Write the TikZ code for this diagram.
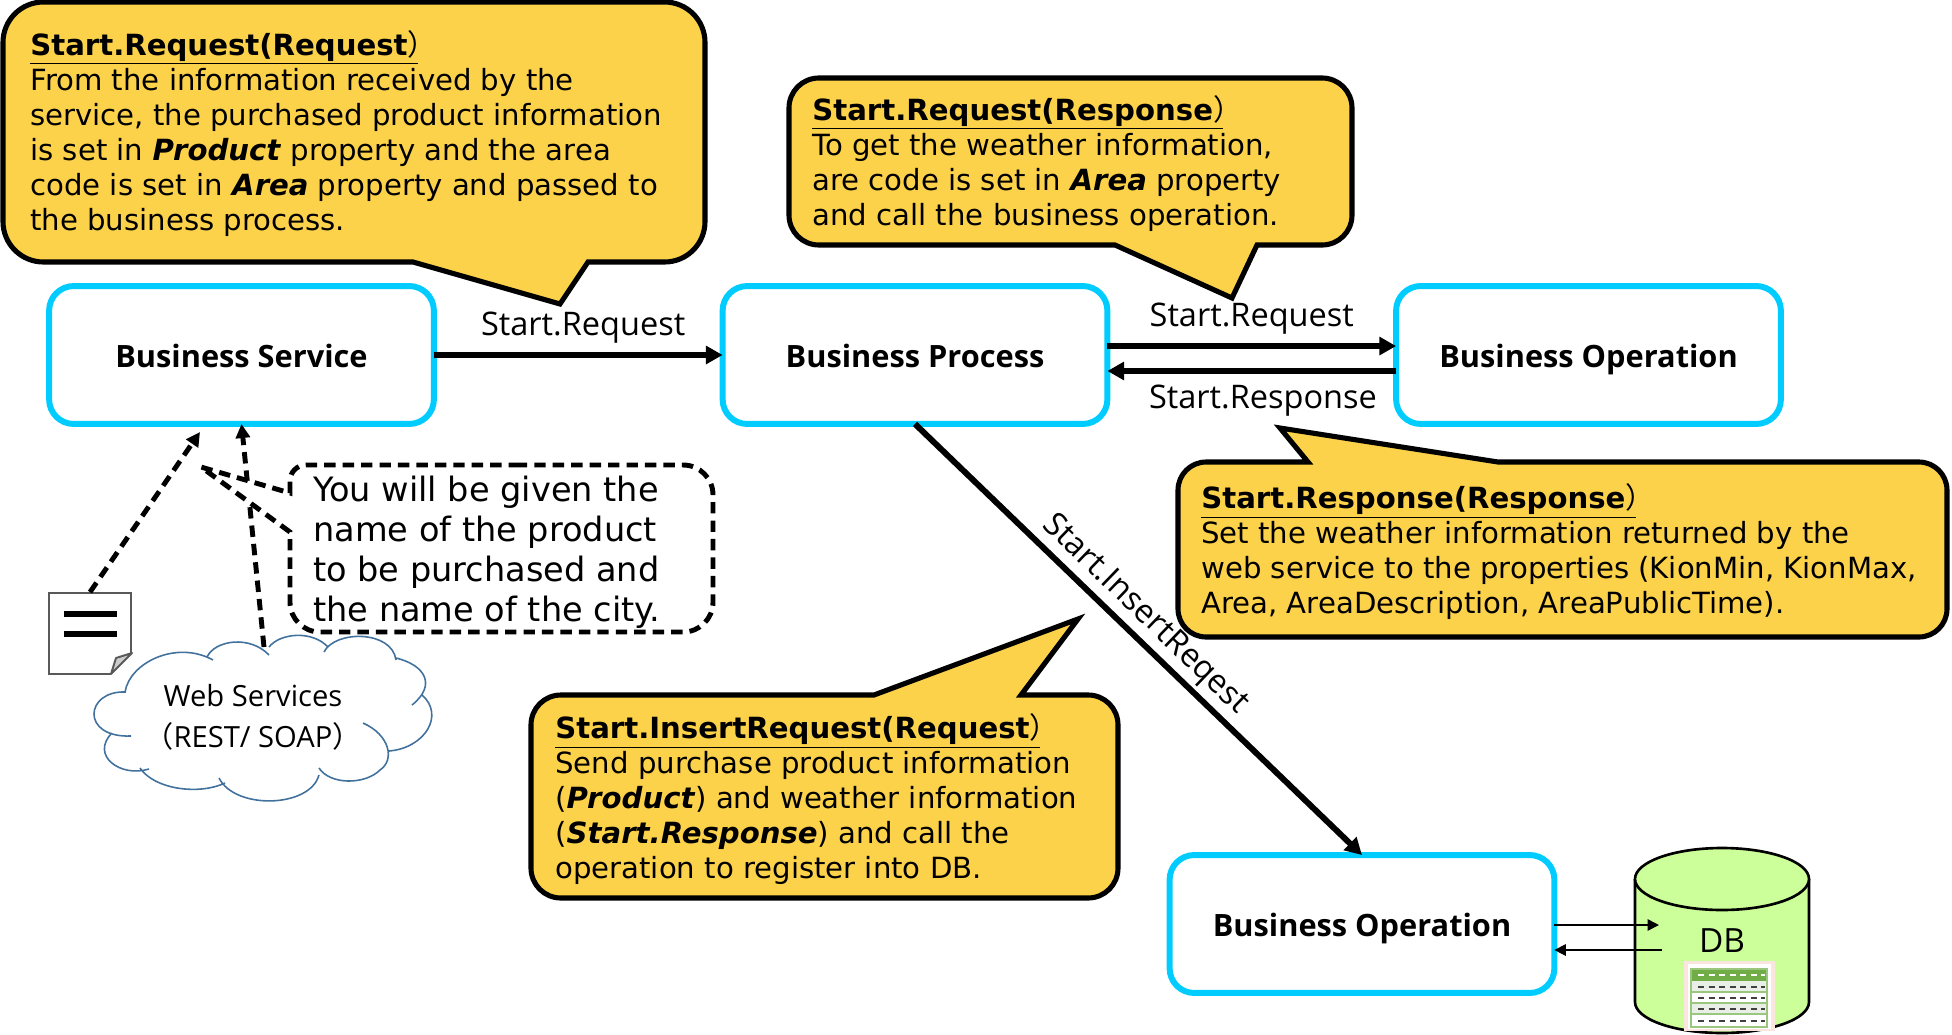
\documentclass[tikz,border=0pt]{standalone}
\usepackage{fontspec}
\setmainfont{DejaVu Sans}
\newfontfamily\uifont{Open Sans}
\newfontfamily\cjk{Noto Sans CJK JP}
\usetikzlibrary{arrows.meta}
\definecolor{frame}{HTML}{00CCFF}
\definecolor{note}{HTML}{FDD24B}
\definecolor{puff}{HTML}{41719C}
\definecolor{store}{HTML}{CCFF99}
\definecolor{grid}{HTML}{70AD47}
\definecolor{stripe}{HTML}{E9EFE6}
\definecolor{halo}{HTML}{FBE5DF}
\tikzset{
  svcbox/.style={draw=frame,line width=3.4pt,fill=white,rounded corners=14pt,minimum width=219pt,minimum height=78.5pt,outer sep=0pt,text height=17pt,text depth=2.4pt,font=\uifont\fontsize{17.5}{20}\selectfont\bfseries},
  flow/.style={line width=3.4pt,-{Triangle[length=9.5pt,width=10pt]}},
  thinflow/.style={line width=0.9pt,-{Triangle[length=6.5pt,width=6.5pt]}},
  hint/.style={line width=2.8pt,dash pattern=on 6.5pt off 4pt,-{Triangle[length=8pt,width=8pt]}},
  flowlabel/.style={font=\uifont\fontsize{18.5}{22}\selectfont,inner sep=0pt},
  notebox/.style={draw=black,line width=2.9pt,fill=note,line join=miter},
  notetext/.style={anchor=north west,align=left,inner sep=0pt,font=\fontsize{16.6}{19.9}\selectfont},
  dashline/.style={line width=1.1pt,dash pattern=on 3.4pt off 2.6pt},
}
\newcommand{\notehead}[1]{\underline{\textbf{#1}{\cjk ）}\kern-.65em}}
\begin{document}
\begin{tikzpicture}[x=0.02cm,y=-0.02cm]
\useasboundingbox (0,0) rectangle (1952,1035);
% services
\node[svcbox] (bs) at (241.5,355) {Business Service};
\node[svcbox] (bp) at (915,355) {Business Process};
\node[svcbox] (bo) at (1588.5,355) {Business Operation};
\node[svcbox] (bodb) at (1362,924) {Business Operation};
% main flows
\draw[flow] (bs) -- node[flowlabel,above=4.8pt,xshift=2.8pt] {Start.Request} (bp);
\draw[flow] ([yshift=5.1pt]bp.east) -- node[flowlabel,above=5pt] {Start.Request} ([yshift=5.1pt]bo.west);
\draw[flow] ([yshift=-9.1pt]bo.west) -- node[flowlabel,below=6.3pt,xshift=6.4pt] {Start.Response} ([yshift=-9.1pt]bp.east);
\draw[flow] (bp.south) -- node[flowlabel,sloped,pos=0.48,above=2pt] {Start.InsertReqest} (bodb.north);
% document
\node[draw=black!65,line width=1.1pt,fill=white,minimum width=46.7pt,minimum height=46pt,inner sep=0pt] (docicon) at (90,633.5) {};
\draw[line width=3.2pt] (64,614) -- (117,614) (64,634) -- (117,634);
\fill[white] (134,651) -- (134,676) -- (110,676) -- cycle;
\draw[draw=black!65,line width=1.1pt,fill=black!20,line join=round] (132,653) -- (116,658) -- (111,674) -- cycle;
% cloud
\draw[puff,line width=0.9pt]
  (125,692) .. controls (130,662) and (177,640) .. (213,660)
  (207,657) .. controls (215,640) and (250,635) .. (269,655)
  (269,647) .. controls (280,633) and (312,630) .. (328,647)
  (324,652) .. controls (335,630) and (392,630) .. (396,660)
  (396,658) .. controls (425,665) and (437,685) .. (412,705)
  (422,695) .. controls (445,715) and (425,748) .. (389,751)
  (363,723) .. controls (390,735) and (395,760) .. (380,770) .. controls (365,785) and (330,785) .. (319,768)
  (319,775) .. controls (310,808) and (235,810) .. (219,778)
  (225,783) .. controls (200,795) and (155,790) .. (140,768)
  (149,769) .. controls (120,778) and (90,755) .. (112,733)
  (131,736) .. controls (80,738) and (85,690) .. (126,692);
\node[font=\uifont\fontsize{16.6}{23.4}\selectfont,align=center,inner sep=0pt] (cloud) at (253,717) {Web Services\\{\cjk（}REST/ SOAP{\cjk ）}};
% hints
\coordinate (cloudtop) at (264,647);
\coordinate (bsnear) at (200,432);
\draw[hint] (docicon.north) -- (bsnear);
\draw[hint] (cloudtop) -- (bs.south);
\draw[line width=2.8pt,dash pattern=on 6.5pt off 4pt,fill=white,rounded corners=17pt]
  (500,465) -- (713,465) -- (713,632) -- (290,632) [sharp corners] -- (290,532) -- (201,467) -- (290,493) [rounded corners=9pt] -- (290,465) -- cycle;
\node[anchor=north west,align=left,inner sep=0pt,font=\fontsize{19.1}{22.7}\selectfont] (hinttext) at (313,476) {You will be given the\\name of the product\\to be purchased and\\the name of the city.};
% notes
\draw[notebox,rounded corners=23pt] (350,2) -- (705,2) -- (705,262) [sharp corners] -- (588,262) -- (560,304) -- (413,262) [rounded corners=23pt] -- (3,262) -- (3,2) -- cycle;
\node[notetext] (reqnote) at (30,30) {\notehead{Start.Request(Request}\\From the information received by the\\service, the purchased product information\\is set in \textbf{\textit{Product}} property and the area\\code is set in \textbf{\textit{Area}} property and passed to\\the business process.};
\draw[notebox,rounded corners=17pt] (1000,78) -- (1352,78) -- (1352,245) [sharp corners] -- (1257,245) -- (1232,298) -- (1115,245) [rounded corners=17pt] -- (789,245) -- (789,78) -- cycle;
\node[notetext] (respnote) at (812,95) {\notehead{Start.Request(Response}\\To get the weather information,\\are code is set in \textbf{\textit{Area}} property\\and call the business operation.};
\draw[notebox,rounded corners=16pt] (1700,462) -- (1947,462) -- (1947,637) -- (1178,637) -- (1178,462) [sharp corners] -- (1308,462) -- (1280,428) -- (1498,462) [rounded corners=16pt] -- cycle;
\node[notetext] (weathernote) at (1201,483) {\notehead{Start.Response(Response}\\Set the weather information returned by the\\web service to the properties (KionMin, KionMax,\\Area, AreaDescription, AreaPublicTime).};
\draw[notebox,rounded corners=17pt] (531,800) -- (531,695) [sharp corners] -- (874,695) -- (1078,619) -- (1021,695) [rounded corners=17pt] -- (1118,695) -- (1118,898) -- (531,898) -- cycle;
\node[notetext] (insertnote) at (555,713) {\notehead{Start.InsertRequest(Request}\\Send purchase product information\\(\textbf{\textit{Product}}) and weather information\\(\textbf{\textit{Start.Response}}) and call the\\operation to register into DB.};
% database
\draw[line width=1.5pt,fill=store] (1635,879) -- (1635,1002) arc[start angle=180,end angle=0,x radius=87,y radius=31] -- (1809,879);
\draw[line width=1.5pt,fill=store] (1722,879) ellipse[x radius=87,y radius=31];
\node[font=\uifont\fontsize{19}{22}\selectfont,inner sep=0pt] (db) at (1722,941) {DB};
\coordinate (dbin) at (1659,925);
\coordinate (dbout) at (1662,950);
\draw[thinflow] (bodb.east |- dbin) -- (dbin);
\draw[thinflow] (dbout) -- (bodb.east |- dbout);
% table
\fill[halo] (1684,961) rectangle (1775,1031);
\fill[white] (1688,964) rectangle (1771,1029);
\fill[grid] (1691,969) rectangle (1767,981);
\fill[stripe] (1691,981) rectangle (1767,992);
\fill[stripe] (1691,1003) rectangle (1767,1014);
\draw[grid!70,line width=0.6pt] (1691,969) rectangle (1767,1027) (1691,992) -- (1767,992) (1691,1003) -- (1767,1003) (1691,1014) -- (1767,1014);
\draw[dashline,white] (1698,975) -- (1765,975);
\draw[dashline,black!75] (1698,987) -- (1765,987) (1698,998) -- (1765,998) (1698,1009) -- (1765,1009) (1698,1021) -- (1765,1021);
\end{tikzpicture}
\end{document}
